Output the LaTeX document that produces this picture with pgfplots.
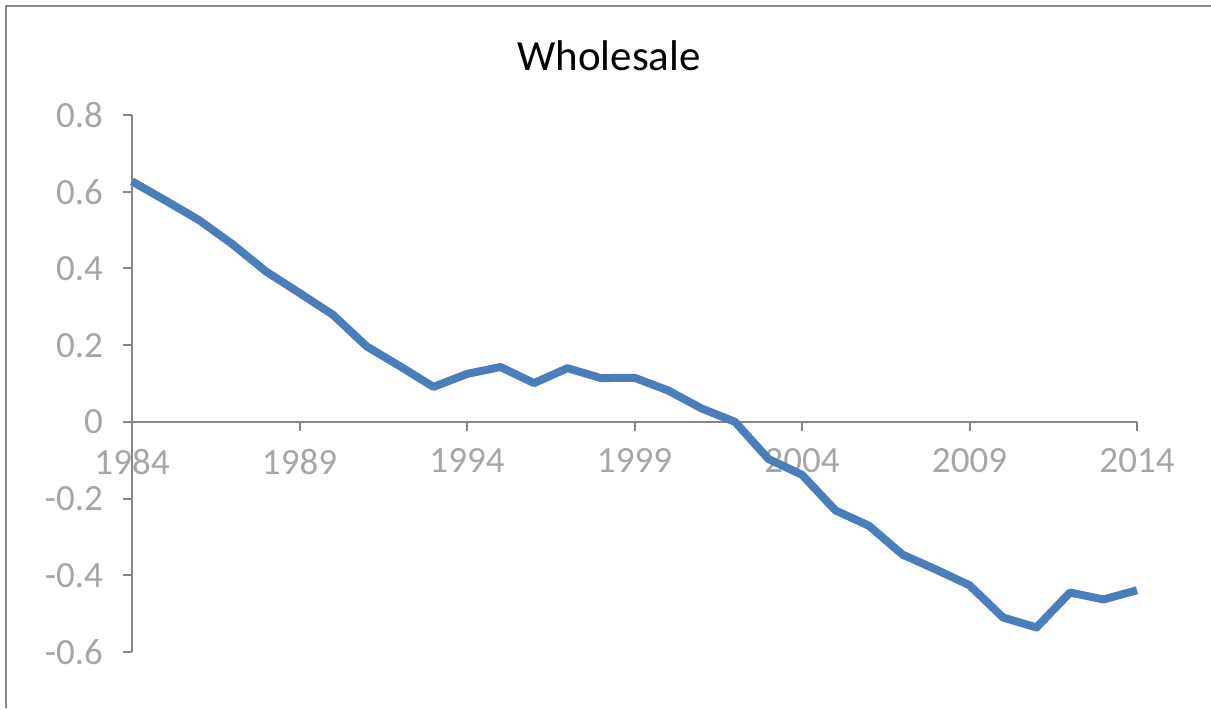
\documentclass[border=0pt]{standalone}
\usepackage{pgfplots}
\pgfplotsset{compat=1.18}
\usepackage{fontspec}
\setmainfont{Carlito}
\definecolor{lineblue}{RGB}{74,126,187}
\definecolor{axgray}{RGB}{134,134,134}
\definecolor{lblgray}{RGB}{166,166,166}
\begin{document}
\begin{tikzpicture}[x=0.5pt,y=0.5pt]
\useasboundingbox (0,0) rectangle (1211,708);
\draw[axgray,line width=1.25pt] (6,0) -- (6,702) -- (1211,702);
\node[anchor=base,font=\fontsize{21.5}{24}\selectfont,black] at (609,637) {Wholesale};
\begin{axis}[
  at={(66pt,28pt)}, anchor=south west,
  scale only axis,
  width=502.5pt, height=268.5pt,
  xmin=1984, xmax=2014, ymin=-0.6, ymax=0.8,
  axis x line=middle, axis y line=left,
  hide obscured x ticks=false, hide obscured y ticks=false,
  axis line style={-, axgray, line width=1pt},
  tick style={axgray, line width=1pt},
  tick align=outside,
  major tick length=4.5pt,
  xtick={1984,1989,1994,1999,2004,2009,2014},
  ytick={-0.6,-0.4,-0.2,0,0.2,0.4,0.6,0.8},
  /pgf/number format/assume math mode=true,
  /pgf/number format/set thousands separator={},
  ticklabel style={font=\fontsize{18.5}{20}\selectfont, text=lblgray},
  xticklabel style={yshift=-5.5pt},
  yticklabel style={xshift=-6.5pt},
  clip=false,
]
\addplot[lineblue, line width=4pt, line join=round] coordinates {
(1984,0.627) (1985,0.577) (1986,0.526) (1987,0.463) (1988,0.392)
(1989,0.336) (1990,0.279) (1991,0.197) (1992,0.145) (1993,0.091)
(1994,0.125) (1995,0.143) (1996,0.101) (1997,0.140) (1998,0.114)
(1999,0.115) (2000,0.082) (2001,0.035) (2002,0.000) (2003,-0.097)
(2004,-0.138) (2005,-0.231) (2006,-0.271) (2007,-0.346) (2008,-0.385)
(2009,-0.426) (2010,-0.510) (2011,-0.536) (2012,-0.445) (2013,-0.463)
(2014,-0.439)
};
\end{axis}
\end{tikzpicture}
\end{document}
